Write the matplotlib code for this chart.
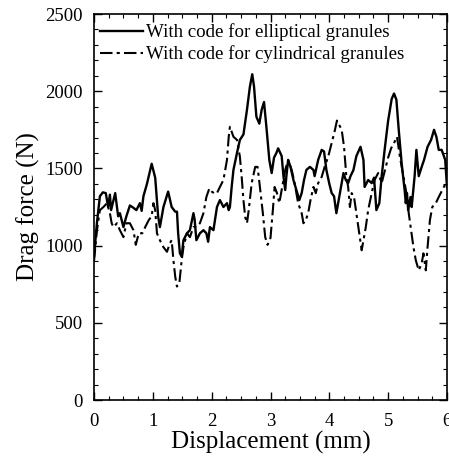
import numpy as np
import matplotlib
matplotlib.use("Agg")
import matplotlib.pyplot as plt
from matplotlib.ticker import MultipleLocator

plt.rcParams["font.family"] = ["Liberation Serif", "DejaVu Serif"]

# elliptical granules (solid)
x_ell = [0.0, 0.05, 0.1, 0.15, 0.2, 0.24, 0.27, 0.29, 0.36, 0.41, 0.44, 0.5, 0.55, 0.61,
         0.67, 0.72, 0.78, 0.81, 0.84, 0.9, 0.98, 1.04, 1.09, 1.12, 1.18, 1.26, 1.32, 1.38,
         1.41, 1.43, 1.46, 1.49, 1.52, 1.58, 1.63, 1.69, 1.71, 1.74, 1.8, 1.86, 1.91, 1.94,
         1.97, 2.03, 2.09, 2.14, 2.2, 2.26, 2.29, 2.31, 2.34, 2.37, 2.43, 2.48, 2.54, 2.6,
         2.65, 2.69, 2.72, 2.76, 2.81, 2.85, 2.89, 2.93, 2.98, 3.02, 3.06, 3.1, 3.13, 3.19,
         3.22, 3.25, 3.27, 3.3, 3.34, 3.39, 3.44, 3.49, 3.53, 3.57, 3.61, 3.67, 3.73, 3.75,
         3.81, 3.87, 3.91, 3.95, 4.0, 4.04, 4.08, 4.12, 4.18, 4.24, 4.28, 4.32, 4.36, 4.41,
         4.46, 4.53, 4.58, 4.6, 4.66, 4.72, 4.76, 4.8, 4.85, 4.89, 4.94, 5.0, 5.06, 5.1,
         5.14, 5.18, 5.23, 5.28, 5.3, 5.32, 5.34, 5.38, 5.4, 5.45, 5.48, 5.52, 5.57, 5.61,
         5.67, 5.73, 5.78, 5.82, 5.86, 5.91, 5.97, 6.0]
f_ell = [930, 1150, 1320, 1345, 1340, 1250, 1330, 1230, 1340, 1190, 1210, 1120, 1190, 1260,
         1245, 1230, 1275, 1225, 1320, 1400, 1530, 1440, 1190, 1120, 1250, 1350, 1250, 1220,
         1220, 1080, 950, 930, 1035, 1080, 1100, 1210, 1170, 1035, 1080, 1100, 1080, 1025,
         1120, 1100, 1250, 1295, 1250, 1275, 1230, 1250, 1380, 1490, 1600, 1685, 1720, 1880,
         2030, 2110, 2030, 1835, 1790, 1880, 1930, 1770, 1555, 1470, 1570, 1600, 1630, 1580,
         1450, 1360, 1450, 1555, 1510, 1425, 1360, 1295, 1340, 1425, 1490, 1510, 1490, 1450,
         1555, 1620, 1610, 1490, 1400, 1340, 1320, 1210, 1340, 1470, 1425, 1405, 1450, 1490,
         1580, 1640, 1555, 1380, 1425, 1405, 1440, 1230, 1275, 1450, 1620, 1810, 1950, 1985,
         1945, 1750, 1530, 1360, 1275, 1340, 1230, 1315, 1250, 1450, 1620, 1450, 1510, 1555,
         1640, 1685, 1750, 1705, 1620, 1620, 1555, 1380]

# cylindrical granules (dash-dot)
x_cyl = [0.0, 0.05, 0.1, 0.16, 0.22, 0.27, 0.3, 0.33, 0.39, 0.44, 0.5, 0.55, 0.61, 0.67,
         0.71, 0.76, 0.82, 0.87, 0.93, 0.98, 1.01, 1.04, 1.07, 1.12, 1.18, 1.24, 1.29, 1.32,
         1.35, 1.38, 1.41, 1.45, 1.49, 1.52, 1.58, 1.63, 1.69, 1.74, 1.8, 1.86, 1.91, 1.96,
         2.0, 2.06, 2.09, 2.14, 2.2, 2.26, 2.29, 2.31, 2.37, 2.43, 2.48, 2.51, 2.54, 2.57,
         2.6, 2.63, 2.68, 2.74, 2.78, 2.82, 2.87, 2.91, 2.95, 3.0, 3.04, 3.07, 3.11, 3.15,
         3.19, 3.25, 3.3, 3.36, 3.41, 3.47, 3.53, 3.56, 3.6, 3.64, 3.68, 3.73, 3.77, 3.81,
         3.87, 3.92, 3.98, 4.04, 4.09, 4.13, 4.21, 4.25, 4.29, 4.32, 4.35, 4.38, 4.42, 4.46,
         4.51, 4.55, 4.58, 4.62, 4.66, 4.72, 4.77, 4.83, 4.89, 4.94, 5.0, 5.05, 5.1, 5.15,
         5.2, 5.26, 5.31, 5.35, 5.39, 5.43, 5.47, 5.52, 5.57, 5.6, 5.64, 5.67, 5.71, 5.75,
         5.81, 5.86, 5.92, 5.98, 6.0]
f_cyl = [900, 1100, 1230, 1250, 1275, 1210, 1145, 1120, 1145, 1100, 1055, 1145, 1145, 1100,
         1005, 1080, 1080, 1120, 1165, 1190, 1275, 1230, 1080, 1035, 990, 960, 1015, 1035,
         905, 800, 735, 755, 905, 990, 1080, 1055, 1120, 1120, 1145, 1210, 1315, 1370,
         1350, 1335, 1340, 1380, 1425, 1555, 1705, 1770, 1705, 1685, 1575, 1445, 1295, 1185,
         1145, 1230, 1405, 1510, 1510, 1380, 1210, 1055, 1005, 1050, 1230, 1380, 1340, 1275,
         1360, 1490, 1555, 1490, 1405, 1275, 1210, 1145, 1165, 1210, 1295, 1380, 1340, 1405,
         1445, 1510, 1575, 1665, 1740, 1810, 1750, 1640, 1445, 1380, 1250, 1340, 1315, 1210,
         1080, 970, 1035, 1120, 1230, 1340, 1425, 1470, 1405, 1480, 1570, 1630, 1665, 1705,
         1575, 1445, 1340, 1210, 1100, 990, 905, 840, 885, 950, 840, 990, 1165, 1250,
         1275, 1315, 1360, 1405, 1425]

fig = plt.figure(figsize=(4.49, 4.58), dpi=100)
ax = fig.add_axes([0.2094, 0.1266, 0.7861, 0.8428])

ax.plot(x_ell, f_ell, color="black", lw=1.7, label="With code for elliptical granules")
ax.plot(x_cyl, f_cyl, color="black", lw=1.5, linestyle=(0, (6, 2, 1.5, 2)),
        label="With code for cylindrical granules")

ax.set_xlim(0, 6)
ax.set_ylim(0, 2500)
ax.xaxis.set_major_locator(MultipleLocator(1))
ax.xaxis.set_minor_locator(MultipleLocator(0.25))
ax.yaxis.set_major_locator(MultipleLocator(500))
ax.yaxis.set_minor_locator(MultipleLocator(100))
ax.tick_params(which="both", direction="in", top=True, right=True, labelsize=13.5)
ax.tick_params(axis="x", which="major", pad=9)
ax.tick_params(axis="y", which="major", pad=8)
ax.tick_params(which="major", length=6, width=1)
ax.tick_params(which="minor", length=3, width=0.8)
for s in ax.spines.values():
    s.set_linewidth(1.2)

ax.set_xlabel("Displacement (mm)", fontsize=18, labelpad=1)
ax.set_ylabel("Drag force (N)", fontsize=18, labelpad=4)

ax.legend(loc="upper left", frameon=False, fontsize=13.6, handlelength=2.3,
          handletextpad=0.15, labelspacing=0.22, borderaxespad=0.0,
          bbox_to_anchor=(-0.005, 0.995))

fig.savefig("out.png", dpi=100)
